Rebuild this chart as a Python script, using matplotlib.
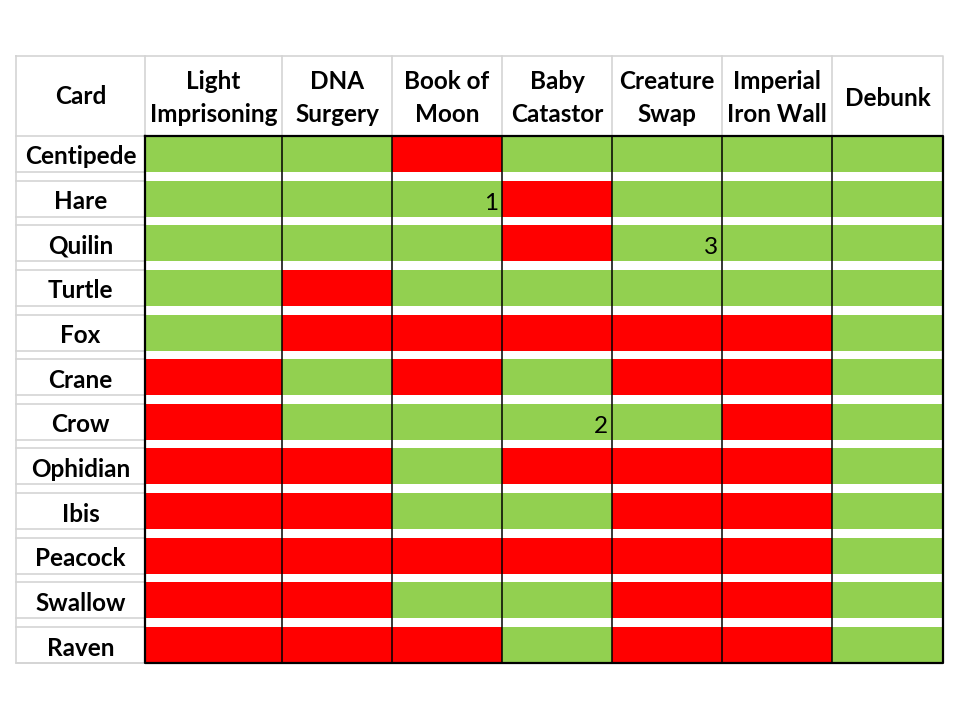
import matplotlib.pyplot as plt

# table content
cards = ["Centipede", "Hare", "Quilin", "Turtle", "Fox", "Crane", "Crow",
         "Ophidian", "Ibis", "Peacock", "Swallow", "Raven"]
effects = ["Light\nImprisoning", "DNA\nSurgery", "Book of\nMoon", "Baby\nCatastor",
           "Creature\nSwap", "Imperial\nIron Wall", "Debunk"]
corner_label = "Card"

# 1 = green cell, 0 = red cell (rows = cards, cols = effects)
outcome = [
    [1, 1, 0, 1, 1, 1, 1],
    [1, 1, 1, 0, 1, 1, 1],
    [1, 1, 1, 0, 1, 1, 1],
    [1, 0, 1, 1, 1, 1, 1],
    [1, 0, 0, 0, 0, 0, 1],
    [0, 1, 0, 1, 0, 0, 1],
    [0, 1, 1, 1, 1, 0, 1],
    [0, 0, 1, 0, 0, 0, 1],
    [0, 0, 1, 1, 0, 0, 1],
    [0, 0, 0, 0, 0, 0, 1],
    [0, 0, 1, 1, 0, 0, 1],
    [0, 0, 0, 1, 0, 0, 1],
]

# small footnote numbers written inside some cells
note_rows = [1, 2, 6]
note_cols = [2, 4, 3]
note_text = ["1", "3", "2"]

# layout (pixel coords of a 960x720 canvas)
col_edges = [16, 145, 282, 392, 502, 612, 722, 832, 943]
header_top = 56
body_top = 136
body_bottom = 663
gap = 8.7
GREEN = "#92D050"
RED = "#FF0000"
GRID = "#D4D4D4"
FONT = ["Lato", "DejaVu Sans"]
FS = 17.5

n = len(cards)
pitch = (body_bottom - body_top + gap) / n
bar_h = pitch - gap
bar_tops = [body_top + i * pitch for i in range(n)]
bar_mid = [t + bar_h / 2 for t in bar_tops]

fig = plt.figure(figsize=(9.6, 7.2), dpi=100)
ax = fig.add_axes([0, 0, 1, 1])
ax.set_xlim(0, 960)
ax.set_ylim(720, 0)
ax.axis("off")

# coloured cells, one column at a time
for j in range(len(effects)):
    left = col_edges[j + 1]
    width = col_edges[j + 2] - left
    colors = [GREEN if outcome[i][j] else RED for i in range(n)]
    ax.barh(bar_mid, width, left=left, height=bar_h, color=colors, linewidth=0)

# light grey grid: outer frame, header separators, label column separators
x0, x1 = col_edges[0], col_edges[-1]
ax.plot([x0, x1, x1, x0, x0], [header_top, header_top, body_bottom, body_bottom, header_top],
        color=GRID, lw=1.2)
for x in col_edges[1:-1]:
    ax.plot([x, x], [header_top, body_top], color=GRID, lw=1.2)
ax.plot([x0, col_edges[1]], [body_top, body_top], color=GRID, lw=1.2)
for t in bar_tops:
    ax.plot([x0, col_edges[1]], [t + bar_h, t + bar_h], color=GRID, lw=1.2)
    if t > body_top:
        ax.plot([x0, col_edges[1]], [t, t], color=GRID, lw=1.2)

# black borders around the coloured block
for x in col_edges[2:-1]:
    ax.plot([x, x], [body_top, body_bottom], color="black", lw=1.1)
bx0, bx1 = col_edges[1], col_edges[-1]
ax.plot([bx0, bx1, bx1, bx0, bx0], [body_top, body_top, body_bottom, body_bottom, body_top],
        color="black", lw=1.6)

# header texts
head_y = (header_top + body_top) / 2
ax.text((col_edges[0] + col_edges[1]) / 2, head_y + 1, corner_label, ha="center", va="center",
        fontsize=FS, fontweight="bold", family=FONT)
for j, name in enumerate(effects):
    cx = (col_edges[j + 1] + col_edges[j + 2]) / 2
    ax.text(cx, head_y + 2, name, ha="center", va="center", multialignment="center",
            fontsize=FS, fontweight="bold", family=FONT, linespacing=1.5)

# row labels
for i, card in enumerate(cards):
    ax.text((col_edges[0] + col_edges[1]) / 2, bar_mid[i] + 3, card, ha="center", va="center",
            fontsize=FS, fontweight="bold", family=FONT)

# footnote numbers
for r, c, s in zip(note_rows, note_cols, note_text):
    ax.text(col_edges[c + 2] - 4, bar_tops[r] + bar_h - 7, s, ha="right", va="baseline",
            fontsize=17.5, family=FONT)

fig.savefig("out.png", dpi=100, facecolor="white")
